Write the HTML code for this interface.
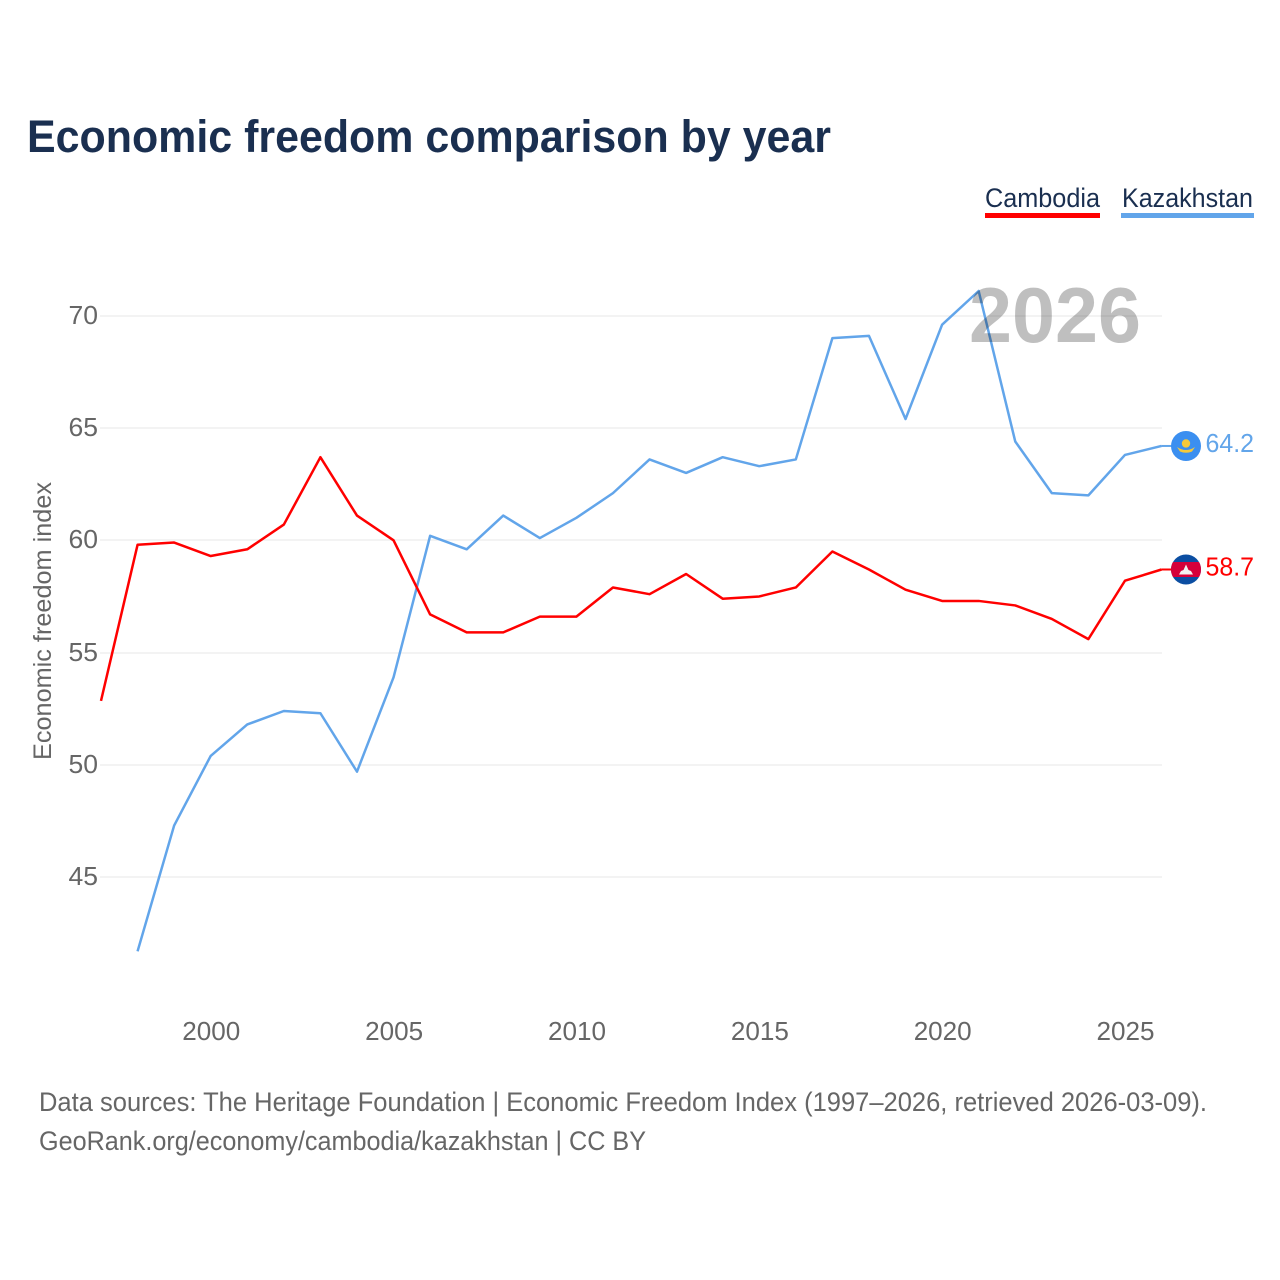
<!DOCTYPE html>
<html lang="en">
<head>
<meta charset="utf-8">
<title>Economic freedom comparison by year</title>
<style>
html,body{margin:0;padding:0;background:#fff;width:1280px;height:1280px;overflow:hidden}
svg{display:block}
text{font-family:"Liberation Sans",sans-serif}
</style>
</head>
<body>
<svg id="chart" width="1280" height="1280" viewBox="0 0 1280 1280" xmlns="http://www.w3.org/2000/svg">
  <rect width="1280" height="1280" fill="#fff"/>
  <text x="27" y="152" font-size="45" font-weight="700" fill="#1a2f50" textLength="804" lengthAdjust="spacingAndGlyphs">Economic freedom comparison by year</text>

  <g>
    <text x="985" y="207" font-size="26.5" fill="#1a2f50" textLength="115" lengthAdjust="spacingAndGlyphs">Cambodia</text>
    <rect x="985" y="213" width="115" height="5" fill="#ff0000"/>
  </g>
  <g>
    <text x="1122" y="207" font-size="26.5" fill="#1a2f50" textLength="131" lengthAdjust="spacingAndGlyphs">Kazakhstan</text>
    <rect x="1121" y="213" width="133" height="5" fill="#62a5ea"/>
  </g>

  <g id="grid"></g>
  <g id="yticks"></g>
  <g id="xticks"></g>
  <text transform="translate(51 621) rotate(-90)" text-anchor="middle" font-size="25" fill="#666" textLength="278" lengthAdjust="spacingAndGlyphs">Economic freedom index</text>

  <g id="series"></g>
  <text x="969" y="342" font-size="78" font-weight="700" fill="#000" fill-opacity="0.25" textLength="172" lengthAdjust="spacingAndGlyphs">2026</text>
  <g id="ends"></g>

  <text x="39" y="1111" font-size="26.5" fill="#666" textLength="1168" lengthAdjust="spacingAndGlyphs">Data sources: The Heritage Foundation | Economic Freedom Index (1997–2026, retrieved 2026-03-09).</text>
  <text x="39" y="1150" font-size="26.5" fill="#666" textLength="607" lengthAdjust="spacingAndGlyphs">GeoRank.org/economy/cambodia/kazakhstan | CC BY</text>
</svg>
<script>
const years = [1997,1998,1999,2000,2001,2002,2003,2004,2005,2006,2007,2008,2009,2010,2011,2012,2013,2014,2015,2016,2017,2018,2019,2020,2021,2022,2023,2024,2025,2026];
const cambodiaValues = [52.85,59.8,59.9,59.3,59.6,60.7,63.7,61.1,60.0,56.7,55.9,55.9,56.6,56.6,57.9,57.6,58.5,57.4,57.5,57.9,59.5,58.7,57.8,57.3,57.3,57.1,56.5,55.6,58.2,58.7];
const kazakhstanValues = [null,41.7,47.3,50.4,51.8,52.4,52.3,49.7,53.9,60.2,59.6,61.1,60.1,61.0,62.1,63.6,63.0,63.7,63.3,63.6,69.0,69.1,65.4,69.6,71.1,64.4,62.1,62.0,63.8,64.2];
const yTickValues = [45,50,55,60,65,70];
const xTickValues = [2000,2005,2010,2015,2020,2025];

const SVGNS = 'http://www.w3.org/2000/svg';
const xScale = y => 210.7 + (y - 2000) * 36.57;
const yScale = v => 315.7 + (70 - v) * 22.46;
const mk = (tag, parent, attrs) => {
  const e = document.createElementNS(SVGNS, tag);
  for (const k in attrs) e.setAttribute(k, attrs[k]);
  parent.appendChild(e);
  return e;
};
const grid = document.getElementById('grid');
const yt = document.getElementById('yticks');
const xt = document.getElementById('xticks');
const seriesG = document.getElementById('series');
const ends = document.getElementById('ends');

yTickValues.forEach(v => {
  const gy = Math.round(yScale(v));
  const l = mk('line', grid, {x1: 100, x2: 1162, y1: gy, y2: gy, stroke: '#ececec', 'stroke-width': 1.3});
  
  
  const t = mk('text', yt, {x: 98, y: gy + 8, 'text-anchor': 'end', 'font-size': 26, fill: '#666', textLength: 29.5, lengthAdjust: 'spacingAndGlyphs'});
  
  
  t.textContent = v;
});
xTickValues.forEach(v => {
  const t = mk('text', xt, {x: xScale(v) + 0.6, y: 1040, 'text-anchor': 'middle', 'font-size': 26, fill: '#666', textLength: 58, lengthAdjust: 'spacingAndGlyphs'});
  
  
  t.textContent = v;
});

function drawLine(values, color, name) {
  let d = '';
  values.forEach((v, i) => {
    if (v === null) return;
    d += (d ? 'L' : 'M') + xScale(years[i]).toFixed(2) + ' ' + yScale(v).toFixed(2);
  });
  const p = mk('path', seriesG, {d: d, fill: 'none', stroke: color, 'stroke-width': 2.5, 'stroke-linejoin': 'round'});
  
  
}
drawLine(kazakhstanValues, '#62a5ea', 'line-kazakhstan');
drawLine(cambodiaValues, '#ff0000', 'line-cambodia');

function endMarker(values, color, key, drawFlag) {
  const v = values[values.length - 1];
  const y = yScale(v);
  const c = mk('line', ends, {x1: xScale(years[years.length - 1]), x2: 1172, y1: y, y2: y, stroke: color, 'stroke-width': 2});
  
  
  const g = mk('g', ends, {transform: 'translate(1186 ' + y + ')'});
  
  
  drawFlag(g);
  const t = mk('text', ends, {x: 1205.5, y: y + 6, 'font-size': 26, fill: color, textLength: 48.5, lengthAdjust: 'spacingAndGlyphs'});
  
  
  t.textContent = v.toFixed(1);
}
endMarker(kazakhstanValues, '#62a5ea', 'kazakhstan', g => {
  mk('circle', g, {r: 15, fill: '#3b8ff0'});
  mk('circle', g, {cy: -2.5, r: 4.2, fill: '#f5c93a'});
  mk('path', g, {d: 'M-9 1Q0 7 9 1L6 5.5Q0 8 -6 5.5Z', fill: '#f5c93a'});
});
endMarker(cambodiaValues, '#ff0000', 'cambodia', g => {
  mk('circle', g, {r: 15, fill: '#0b4ea2'});
  mk('path', g, {d: 'M-13 -7.5H13A15 15 0 0 1 13 7.5H-13A15 15 0 0 1 -13 -7.5Z', fill: '#d5003a'});
  mk('path', g, {d: 'M-7 5L-5 1.5L-2.5 0.5L0 -5L2.5 0.5L5 1.5L7 5Z', fill: '#f2f2f2'});
});
</script>
</body>
</html>
